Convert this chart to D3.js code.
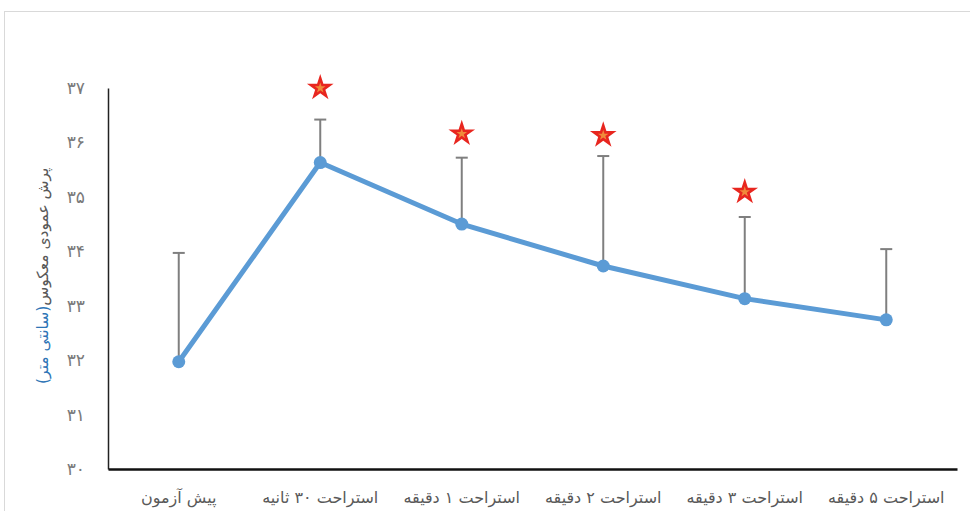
<!DOCTYPE html>
<html lang="fa">
<head>
<meta charset="utf-8">
<script src="https://cdn.jsdelivr.net/npm/d3@7"></script>
<style>
  body { margin: 0; background: #fff; }
  text { font-family: "DejaVu Sans", "Noto Sans", sans-serif; }
</style>
</head>
<body>
<div id="chart"></div>
<script>
// داده‌ها (خوانده شده از تصویر)
const categories = ['پیش آزمون', 'استراحت ۳۰ ثانیه', 'استراحت ۱ دقیقه', 'استراحت ۲ دقیقه', 'استراحت ۳ دقیقه', 'استراحت ۵ دقیقه'];
const means = [31.97, 35.63, 34.50, 33.73, 33.13, 32.74];
const errTop = [33.97, 36.42, 35.72, 35.75, 34.63, 34.04];
const starPos = [null, 37.0, 36.16, 36.13, 35.09, null];
const yTicks = [30, 31, 32, 33, 34, 35, 36, 37];
const faDigits = '۰۱۲۳۴۵۶۷۸۹';
const toFa = n => String(n).replace(/\d/g, d => faDigits[d]);

const width = 970, height = 511;
const margin = { top: 88, right: 13, bottom: 42, left: 108 };

const svg = d3.select('#chart').append('svg')
  .attr('width', width)
  .attr('height', height);

// کادر دور نمودار
svg.append('rect')
  .attr('x', 4.5).attr('y', 11.5)
  .attr('width', 980).attr('height', 520)
  .attr('fill', 'none')
  .attr('stroke', '#d9d9d9');

const x = d3.scaleBand()
  .domain(categories)
  .range([margin.left, width - margin.right]);

const y = d3.scaleLinear()
  .domain([30, 37])
  .range([height - margin.bottom, margin.top]);

// محور y
const yAxis = svg.append('g')
  .attr('transform', `translate(${margin.left},0)`)
  .call(d3.axisLeft(y).tickValues(yTicks).tickSize(0).tickPadding(23).tickFormat(toFa));
yAxis.select('.domain').attr('stroke', '#222').attr('stroke-width', 1.5);
yAxis.selectAll('text').attr('font-size', 17).attr('fill', '#7a7a7a');

// محور x
const xAxis = svg.append('g')
  .attr('transform', `translate(0,${y(30)})`)
  .call(d3.axisBottom(x).tickSize(0).tickPadding(23));
xAxis.select('.domain').attr('stroke', '#111').attr('stroke-width', 2.5);
xAxis.selectAll('text').attr('font-size', 16).attr('fill', '#595959');

// عنوان محور y
const title = svg.append('text')
  .attr('transform', `translate(48,${y(33.55)}) rotate(-90)`)
  .attr('text-anchor', 'middle')
  .attr('direction', 'rtl')
  .attr('font-size', 15.5)
  .attr('fill', '#595959');
title.append('tspan').text('پرش عمودی معکوس');
title.append('tspan').attr('fill', '#2e75b6').text('(سانتی متر)');

const cx = d => x(d) + x.bandwidth() / 2;

// خطای معیار
const eb = svg.append('g').attr('stroke', '#7f7f7f').attr('stroke-width', 2);
eb.selectAll('line.v').data(categories).join('line')
  .attr('x1', cx).attr('x2', cx)
  .attr('y1', (d, i) => y(means[i]))
  .attr('y2', (d, i) => y(errTop[i]));
eb.selectAll('line.c').data(categories).join('line')
  .attr('x1', d => cx(d) - 6).attr('x2', d => cx(d) + 6)
  .attr('y1', (d, i) => y(errTop[i]))
  .attr('y2', (d, i) => y(errTop[i]));

// خط میانگین
svg.append('path')
  .datum(categories)
  .attr('fill', 'none')
  .attr('stroke', '#5b9bd5')
  .attr('stroke-width', 5)
  .attr('stroke-linejoin', 'round')
  .attr('d', d3.line().x(cx).y((d, i) => y(means[i])));

svg.append('g').selectAll('circle').data(categories).join('circle')
  .attr('cx', cx)
  .attr('cy', (d, i) => y(means[i]))
  .attr('r', 6.5)
  .attr('fill', '#5b9bd5');

// ستاره‌های معنی‌داری
const stars = categories.map((c, i) => ({ c, v: starPos[i] })).filter(d => d.v !== null);
const sg = svg.append('g');
sg.selectAll('path.big').data(stars).join('path')
  .attr('transform', d => `translate(${cx(d.c)},${y(d.v)})`)
  .attr('d', d3.symbol(d3.symbolStar, 220))
  .attr('fill', '#e8261f');
sg.selectAll('path.small').data(stars).join('path')
  .attr('transform', d => `translate(${cx(d.c)},${y(d.v)})`)
  .attr('d', d3.symbol(d3.symbolStar, 35))
  .attr('fill', '#f08a3a');
</script>
</body>
</html>
